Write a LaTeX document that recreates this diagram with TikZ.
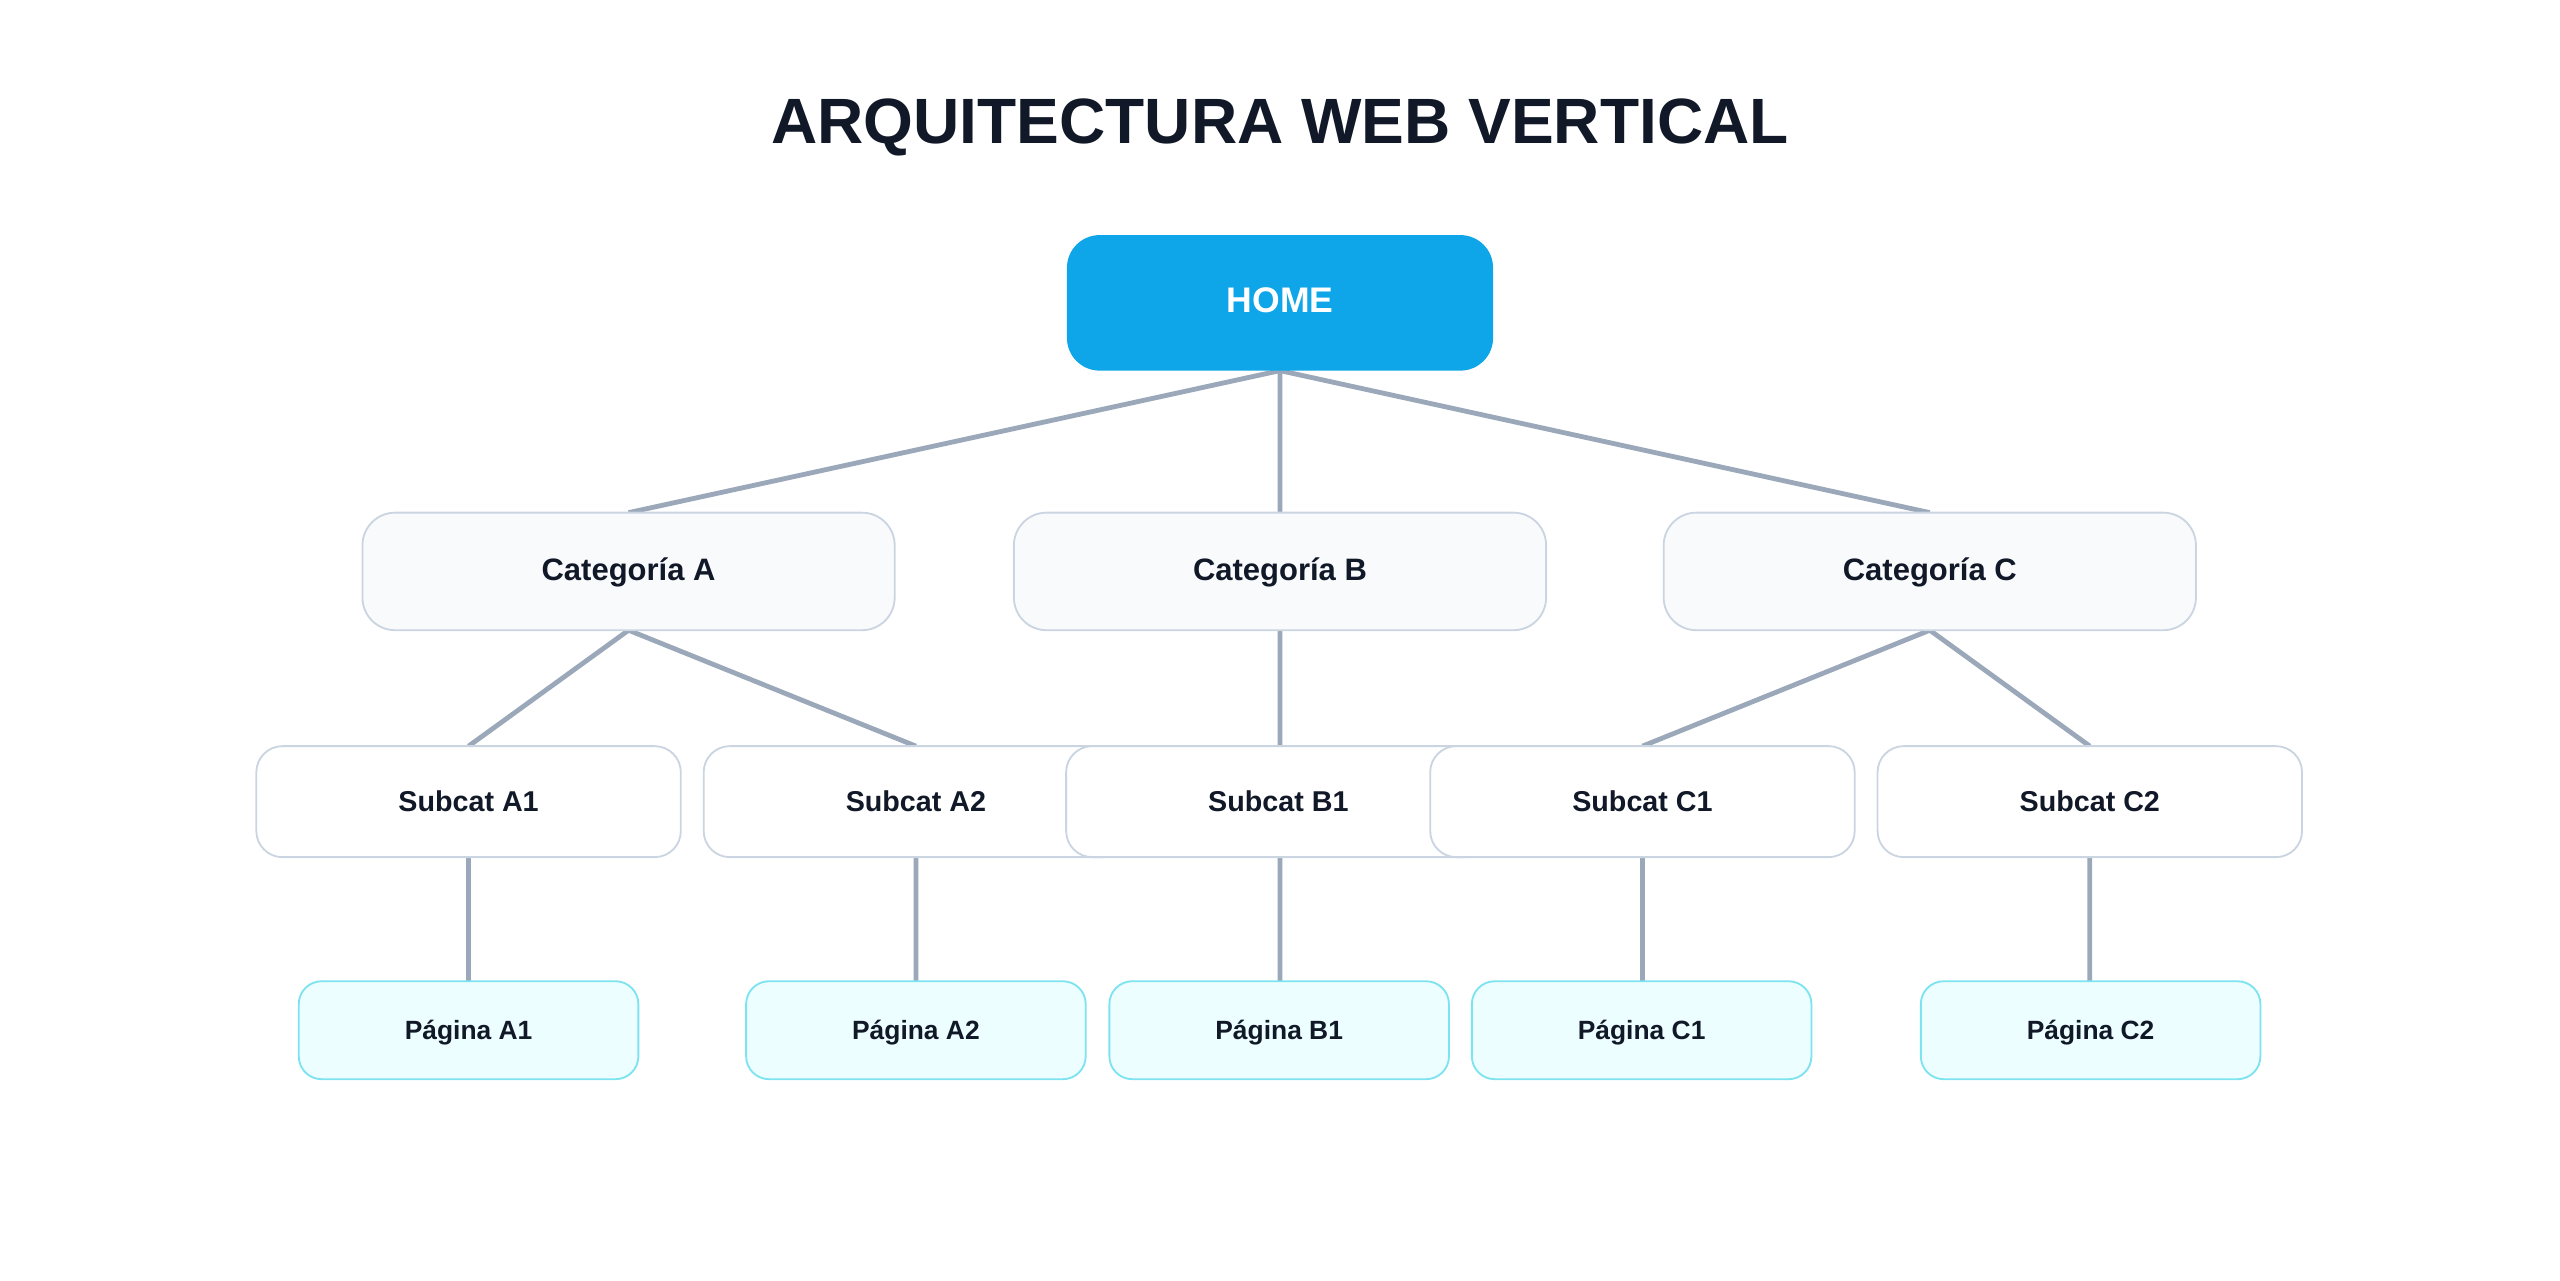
\documentclass[tikz,border=0pt]{standalone}
\usepackage{fontspec}
\setmainfont{Liberation Sans}
\definecolor{ink}{HTML}{111827}
\definecolor{homeblue}{HTML}{0EA5E9}
\definecolor{catfill}{HTML}{F8FAFC}
\definecolor{gborder}{HTML}{CBD5E1}
\definecolor{pgfill}{HTML}{ECFEFF}
\definecolor{pgborder}{HTML}{7DE3F0}
\definecolor{wire}{HTML}{9AA8BA}
\begin{document}
\begin{tikzpicture}[x=0.25mm,y=-0.25mm,
 box/.style={rounded corners=5mm, line width=0.8pt, inner sep=0pt, font=\bfseries, text=ink, text height=1.55ex, text depth=0pt},
 home/.style={box, fill=homeblue, draw=none, minimum width=65.25mm, minimum height=20.75mm, rounded corners=5mm, text=white, font=\bfseries\fontsize{15.5}{18}\selectfont},
 cat/.style={box, fill=catfill, draw=gborder, minimum width=81.5mm, minimum height=18mm, font=\bfseries\fontsize{13.5}{16}\selectfont},
 sub/.style={box, fill=white, draw=gborder, minimum width=65mm, minimum height=17mm, rounded corners=4mm, font=\bfseries\fontsize{12.5}{15}\selectfont},
 pg/.style={box, fill=pgfill, draw=pgborder, minimum width=52mm, minimum height=15mm, rounded corners=3.5mm, font=\bfseries\fontsize{11.5}{14}\selectfont},
 wire/.style={draw=wire, line width=2.1pt}]
\useasboundingbox (0,0) rectangle (1568,784);
\node[font=\bfseries\fontsize{27.9}{33}\selectfont, text=ink] (title) at (784,78) {ARQUITECTURA WEB VERTICAL};
\coordinate (h) at (784,227);
\coordinate (ca) at (385,314); \coordinate (cb) at (784,314); \coordinate (cc) at (1182,314);
\coordinate (cab) at (385,386); \coordinate (cbb) at (784,386); \coordinate (ccb) at (1182,386);
\coordinate (sa1) at (287,457); \coordinate (sa2) at (561,457); \coordinate (sb1) at (784,457);
\coordinate (sc1) at (1006,457); \coordinate (sc2) at (1280,457);
\coordinate (pa1) at (287,601); \coordinate (pa2) at (561,601); \coordinate (pb1) at (784,601);
\coordinate (pc1) at (1006,601); \coordinate (pc2) at (1280,601);
\path[wire] (h)--(ca) (h)--(cb) (h)--(cc)
 (cab)--(sa1) (cab)--(sa2) (cbb)--(sb1) (ccb)--(sc1) (ccb)--(sc2)
 (sa1)--(pa1) (sa2)--(pa2) (sb1)--(pb1) (sc1)--(pc1) (sc2)--(pc2);
\node[home] (home) at (784,185.5) {HOME};
\node[cat] (catA) at (385,350) {Categoría A};
\node[cat] (catB) at (784,350) {Categoría B};
\node[cat] (catC) at (1182,350) {Categoría C};
\node[sub] (subA1) at (287,491) {Subcat A1};
\node[sub] (subA2) at (561,491) {Subcat A2};
\node[sub] (subB1) at (783,491) {Subcat B1};
\node[sub] (subC1) at (1006,491) {Subcat C1};
\node[sub] (subC2) at (1280,491) {Subcat C2};
\node[pg] (pagA1) at (287,631) {Página A1};
\node[pg] (pagA2) at (561,631) {Página A2};
\node[pg] (pagB1) at (783.5,631) {Página B1};
\node[pg] (pagC1) at (1005.5,631) {Página C1};
\node[pg] (pagC2) at (1280.5,631) {Página C2};
\end{tikzpicture}
\end{document}
